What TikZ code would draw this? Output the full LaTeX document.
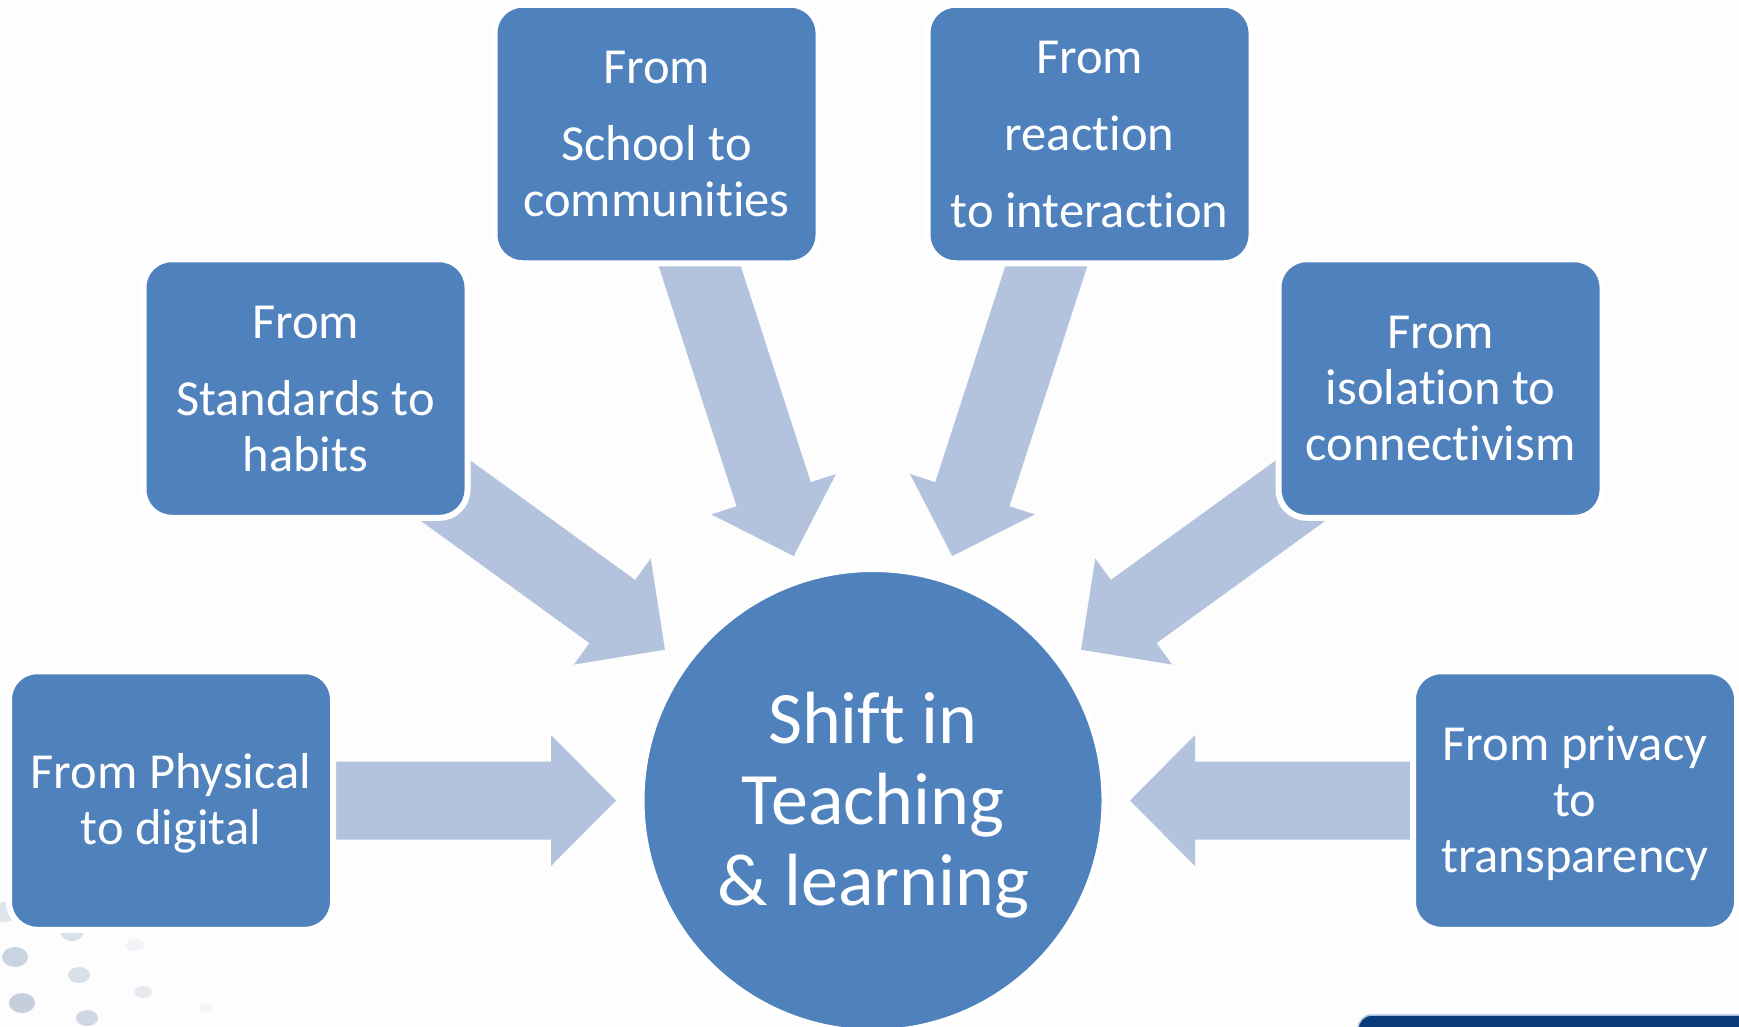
\documentclass[tikz,border=0pt]{standalone}
\usepackage{fontspec}
\setmainfont{Carlito}[Ligatures=NoCommon]
\usetikzlibrary{calc}

\definecolor{boxblue}{RGB}{79,129,189}
\definecolor{arrowblue}{RGB}{179,194,221}
\definecolor{pagebg}{RGB}{253,253,253}
\definecolor{navybar}{RGB}{9,59,122}
\definecolor{barline}{RGB}{165,190,220}
\definecolor{dotgrey}{RGB}{140,160,190}

% first line counted to cap height only, last line without descenders,
% so each text block is centred on its glyphs
\newcommand\capline[1]{\raisebox{0pt}[0.64em][0pt]{#1}}
\newcommand\flatline[1]{\raisebox{0pt}[\height][0pt]{#1}}

\tikzset{
  card/.style={draw=white, line width=6pt, fill=boxblue, rounded corners=28pt,
    minimum width=324pt, minimum height=258.5pt, inner sep=0pt,
    text=white, align=center, font=\fontsize{50.5pt}{56pt}\selectfont},
  hub/.style={circle, draw=white, line width=6pt, fill=boxblue,
    minimum size=463pt, inner sep=0pt,
    text=white, align=center, font=\fontsize{74pt}{81pt}\selectfont},
  blockarrow/.style={fill=arrowblue},
  dot/.style={fill=dotgrey},
}

% Block arrow from a tail point towards the hub; the tip stops 257pt from the hub centre.
% #1 name prefix, #2 tail coordinate
\newcommand\hubarrow[2]{%
  \coordinate (#1-tip) at ($(hub.center)!257pt!(#2)$);
  \coordinate (#1-base) at ($(#1-tip)!65pt!(#2)$);
  \fill[blockarrow]
    ($(#2)!39pt!90:(#1-tip)$) --
    ($(#1-base)!39pt!-90:(#2)$) --
    ($(#1-base)!65.5pt!-90:(#2)$) --
    (#1-tip) --
    ($(#1-base)!65.5pt!90:(#2)$) --
    ($(#1-base)!39pt!90:(#2)$) --
    ($(#2)!39pt!-90:(#1-tip)$) -- cycle;
}

\begin{document}
\begin{tikzpicture}[x=1pt, y=-1pt]
  % page
  \useasboundingbox (0,0) rectangle (1739,1026);
  \fill[pagebg] (0,0) rectangle (1739,1026);

  % scattered dots, lower left
  \fill[dot, opacity=0.25] (5,912) ellipse [x radius=12, y radius=10];
  \fill[dot, opacity=0.30] (72,933) ellipse [x radius=11, y radius=8];
  \fill[dot, opacity=0.45] (15,957) ellipse [x radius=13, y radius=10];
  \fill[dot, opacity=0.30] (79,975) ellipse [x radius=11, y radius=8];
  \fill[dot, opacity=0.50] (22,1003) ellipse [x radius=13, y radius=10];
  \fill[dot, opacity=0.40] (87,1018) ellipse [x radius=11, y radius=8];
  \fill[dot, opacity=0.10] (135,945) ellipse [x radius=9, y radius=6];
  \fill[dot, opacity=0.20] (143,992) ellipse [x radius=9, y radius=6];
  \fill[dot, opacity=0.08] (207,1008) ellipse [x radius=7, y radius=4];

  % dark band, lower right
  \fill[navybar, rounded corners=14pt] (1358,1060) -- (1358,1015) -- (1760,1015) -- (1760,1060) -- cycle;
  \draw[barline, line width=1.5pt, rounded corners=14pt] (1358,1060) -- (1358,1015) -- (1760,1015);

  % hub position
  \coordinate (hubpos) at (873,800.5);
  \path (hubpos) node[hub, fill=none, draw=none] (hub) {};

  % arrow tails (hidden under the cards)
  \coordinate (t-phys) at (300,800.5);
  \coordinate (t-std) at (406,462);
  \coordinate (t-sch) at (687,227);
  \coordinate (t-rea) at (1059,227);
  \coordinate (t-iso) at (1340,462);
  \coordinate (t-pri) at (1446,800.5);

  \hubarrow{a-phys}{t-phys}
  \hubarrow{a-std}{t-std}
  \hubarrow{a-sch}{t-sch}
  \hubarrow{a-rea}{t-rea}
  \hubarrow{a-iso}{t-iso}
  \hubarrow{a-pri}{t-pri}

  % cards
  \node[card] (school) at (656.5,134)
    {\capline{From}\\[21pt]School to\\\flatline{communities}};
  \node[card] (reaction) at (1089.5,134)
    {\capline{From}\\[21pt]reaction\\[21pt]\flatline{to interaction}};
  \node[card] (standards) at (305.5,388.5)
    {\capline{From}\\[21pt]Standards to\\\flatline{habits}};
  \node[card] (isolation) at (1440.5,388.5)
    {\capline{From}\\isolation to\\\flatline{connectivism}};
  \node[card] (physical) at (171,800.5)
    {\capline{From Physical}\\\flatline{to digital}};
  \node[card] (privacy) at (1575,800.5)
    {\capline{From privacy}\\to\\\flatline{transparency}};

  % centre circle
  \node[hub] (centre) at (hubpos)
    {\capline{Shift in}\\Teaching\\\flatline{\& learning}};
\end{tikzpicture}
\end{document}
